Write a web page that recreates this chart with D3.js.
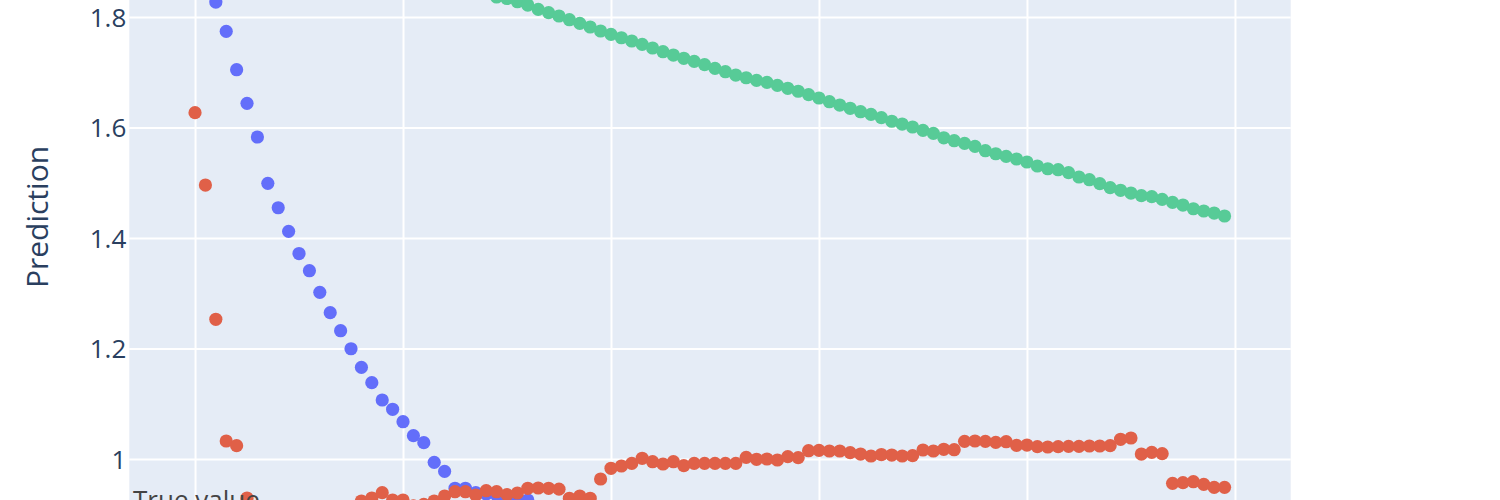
<!DOCTYPE html>
<html>
<head>
<meta charset="utf-8">
<script src="https://cdn.jsdelivr.net/npm/d3@7"></script>
<style>
  html, body { margin: 0; padding: 0; background: #fff; }
  svg { display: block; }
  text { font-family: "Open Sans", verdana, arial, sans-serif; }
</style>
</head>
<body>
<svg id="chart" width="1500" height="500"></svg>
<script>
// ---- data ----
const yTickValues = [1, 1.2, 1.4, 1.6, 1.8];
const yTickLabels = ["1", "1.2", "1.4", "1.6", "1.8"];
const xGridValues = [0, 20, 40, 60, 80, 100];
const yTitle = "Prediction";
const trueValueLabel = "True value";
const trueValue = 0.895;

// blue series: starts at index 0
const blueStart = 0;
const blueValues = [1.93, 1.88, 1.8271, 1.7741, 1.7046, 1.6438, 1.5828, 1.4990, 1.4548, 1.4121,
  1.3719, 1.3408, 1.3017, 1.2648, 1.2322, 1.1996, 1.1659, 1.1381, 1.1068, 1.0900,
  1.0675, 1.0422, 1.0295, 0.9940, 0.9777, 0.9470, 0.9470, 0.9390, 0.9367, 0.9348,
  0.9312, 0.9276, 0.9258];

// orange series: indices 0..99
const orangeStart = 0;
const orangeValues = [1.6268, 1.4959, 1.2529, 1.0326, 1.0241, 0.9294, 0.905, 0.905, 0.908, 0.908,
  0.910, 0.910, 0.912, 0.912, 0.912, 0.912, 0.924, 0.9294, 0.9390, 0.9258,
  0.9258, 0.915, 0.918, 0.924, 0.9330, 0.9408, 0.9408, 0.9348, 0.9426, 0.9408,
  0.9354, 0.9385, 0.9470, 0.9475, 0.9470, 0.9454, 0.9289, 0.9330, 0.9289, 0.9638,
  0.9832, 0.9873, 0.9922, 1.0013, 0.9951, 0.9910, 0.9951, 0.9879, 0.9922, 0.9922,
  0.9922, 0.9922, 0.9922, 1.0031, 0.9995, 1.0000, 0.9982, 1.0042, 1.0024, 1.0150,
  1.0157, 1.0145, 1.0145, 1.0114, 1.0090, 1.0054, 1.0081, 1.0072, 1.0054, 1.0060,
  1.0163, 1.0145, 1.0176, 1.0168, 1.0320, 1.0326, 1.0320, 1.0302, 1.0313, 1.0248,
  1.0253, 1.0223, 1.0217, 1.0223, 1.0230, 1.0230, 1.0235, 1.0235, 1.0241, 1.0357,
  1.0380, 1.0090, 1.0121, 1.0096, 0.9560, 0.9571, 0.9589, 0.9542, 0.9488, 0.9488];

// green series: starts at index 26 (earlier points lie above the visible area)
const greenStart = 26;
const greenValues = [1.8615, 1.8525, 1.8434, 1.8362, 1.8335, 1.8277, 1.8217, 1.8139, 1.8078, 1.8018,
  1.7951, 1.7886, 1.7819, 1.7747, 1.7687, 1.7625, 1.7566, 1.7506, 1.7439, 1.7372,
  1.7312, 1.7253, 1.7198, 1.7137, 1.7071, 1.7010, 1.6950, 1.6901, 1.6854, 1.6818,
  1.6764, 1.6710, 1.6656, 1.6594, 1.6534, 1.6467, 1.6407, 1.6348, 1.6286, 1.6239,
  1.6178, 1.6113, 1.6063, 1.6009, 1.5949, 1.5895, 1.5814, 1.5761, 1.5714, 1.5659,
  1.5580, 1.5525, 1.5479, 1.5430, 1.5376, 1.5303, 1.5254, 1.5236, 1.5182, 1.5104,
  1.5055, 1.4983, 1.4911, 1.4864, 1.4814, 1.4766, 1.4748, 1.4700, 1.4646, 1.4597,
  1.4530, 1.4489, 1.4452, 1.4398];

const seriesList = [
  { name: "blue", start: blueStart, values: blueValues, color: "#636efa" },
  { name: "green", start: greenStart, values: greenValues, color: "#57cb97" },
  { name: "orange", start: orangeStart, values: orangeValues, color: "#e06048" }
];

// ---- layout ----
const W = 1500, H = 500;
const plot = { left: 129.3, right: 1290.7, top: 0, bottom: 500 };

const svg = d3.select("#chart");

const x = d3.scaleLinear().domain([-6.32, 105.36]).range([plot.left, plot.right]);
const y = d3.scaleLinear().domain([0.9258, 1.8308]).range([plot.bottom, plot.top]);

// background
svg.append("rect")
  .attr("x", plot.left).attr("y", plot.top)
  .attr("width", plot.right - plot.left).attr("height", plot.bottom - plot.top)
  .attr("fill", "#e5ecf6");

svg.append("defs").append("clipPath").attr("id", "clip")
  .append("rect")
  .attr("x", plot.left).attr("y", plot.top)
  .attr("width", plot.right - plot.left).attr("height", plot.bottom - plot.top);

// grid via axes
const xGrid = d3.axisBottom(x).tickValues(xGridValues)
  .tickSize(-(plot.bottom - plot.top)).tickFormat("");
svg.append("g")
  .attr("transform", `translate(0,${plot.bottom})`)
  .call(xGrid)
  .call(g => g.select(".domain").remove())
  .call(g => g.selectAll("line").attr("stroke", "#fff").attr("stroke-width", 2));

const yGrid = d3.axisLeft(y).tickValues(yTickValues)
  .tickSize(-(plot.right - plot.left)).tickFormat("");
svg.append("g")
  .attr("transform", `translate(${plot.left},0)`)
  .call(yGrid)
  .call(g => g.select(".domain").remove())
  .call(g => g.selectAll("line").attr("stroke", "#fff").attr("stroke-width", 2));

// y tick labels
const yAxis = d3.axisLeft(y).tickValues(yTickValues)
  .tickSize(0).tickPadding(3)
  .tickFormat((d, i) => yTickLabels[i]);
svg.append("g")
  .attr("transform", `translate(${plot.left},0)`)
  .call(yAxis)
  .call(g => g.select(".domain").remove())
  .call(g => g.selectAll("text")
    .attr("fill", "#2a3f5f")
    .style("font-size", "26px")
    .attr("dy", "0.35em"));

// y title
svg.append("text")
  .attr("transform", `translate(48,217) rotate(-90)`)
  .attr("text-anchor", "middle")
  .attr("fill", "#2a3f5f")
  .style("font-size", "30px")
  .text(yTitle);

// marks
const marks = svg.append("g").attr("clip-path", "url(#clip)");

// true value line (below visible area)
marks.append("line")
  .attr("x1", plot.left).attr("x2", plot.right)
  .attr("y1", y(trueValue)).attr("y2", y(trueValue))
  .attr("stroke", "#444").attr("stroke-width", 2).attr("stroke-dasharray", "6,4");

seriesList.forEach(s => {
  marks.append("g")
    .selectAll("circle")
    .data(s.values.map((v, i) => ({ xi: s.start + i, v })))
    .join("circle")
    .attr("cx", d => x(d.xi))
    .attr("cy", d => y(d.v))
    .attr("r", 6.6)
    .attr("fill", s.color);
});

// "True value" annotation
svg.append("text")
  .attr("x", 133)
  .attr("y", 509)
  .attr("fill", "#444")
  .style("font-size", "26px")
  .text(trueValueLabel);
</script>
</body>
</html>
